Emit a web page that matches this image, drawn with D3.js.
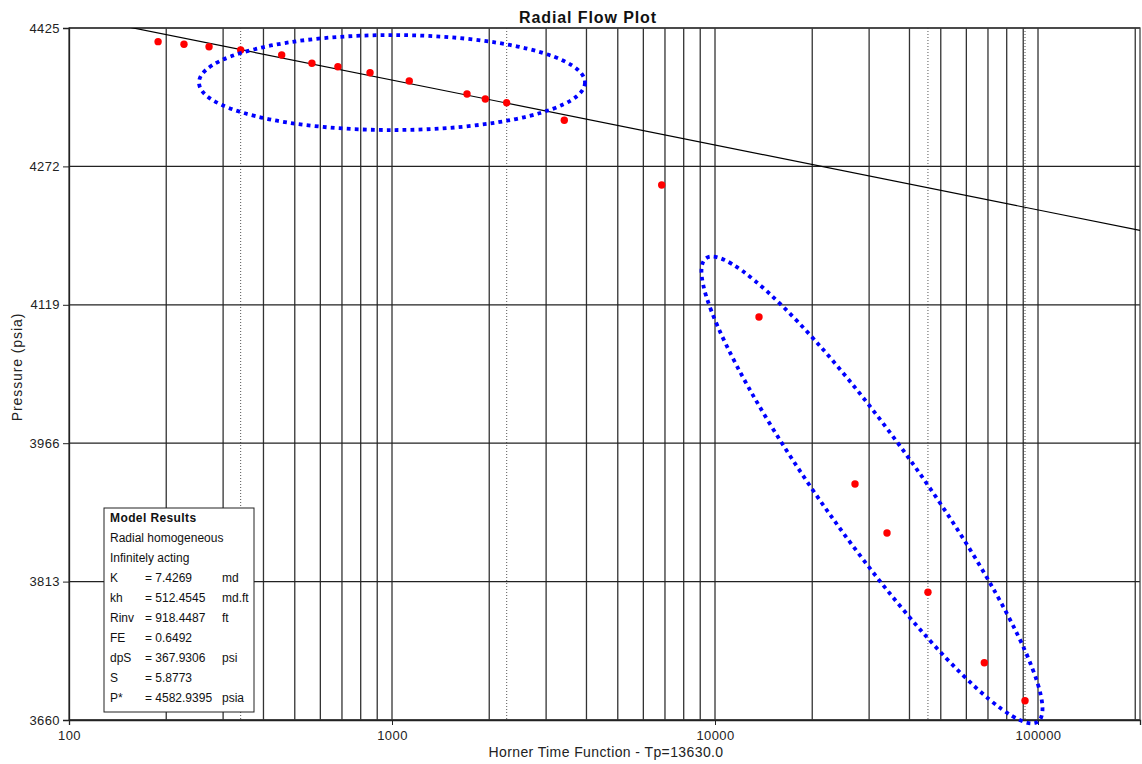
<!DOCTYPE html>
<html>
<head>
<meta charset="utf-8">
<script src="https://cdn.jsdelivr.net/npm/d3@7"></script>
<style>
  body { margin: 0; background: #fff; }
  text { font-family: "Liberation Sans", Arial, sans-serif; }
</style>
</head>
<body>
<svg id="chart" width="1142" height="764"></svg>
<script>
// ---- data ----
const hornerTime = [188.7, 227, 271.4, 340, 455.5, 565, 680, 855, 1131, 1707, 1945, 2265, 3415, 6839,
                    13683, 27130, 34080, 45630, 68200, 91150];
const pressure = [4409.9, 4407.0, 4404.3, 4400.7, 4395.2, 4386.0, 4382.2, 4375.6, 4366.4, 4352.0,
                  4346.5, 4342.4, 4323.0, 4251.4, 4105.5, 3920.9, 3866.7, 3801.2, 3723.3, 3681.3];
const fitTime = [100, 206900];
const fitPressure = [4439.3, 4201.2];
const markerTimes = [340, 2265, 45630, 91150];
const yTicks = [3660, 3813, 3966, 4119, 4272, 4425];
const xTickLabels = [100, 1000, 10000, 100000];
const ellipseTime = [1000, 30620];
const ellipsePressure = [4364.7, 3914.3];
const resultLabels = ["K", "kh", "Rinv", "FE", "dpS", "S", "P*"];
const resultValues = ["= 7.4269", "= 512.4545", "= 918.4487", "= 0.6492", "= 367.9306", "= 5.8773", "= 4582.9395"];
const resultUnits = ["md", "md.ft", "ft", "", "psi", "", "psia"];
const resultHeader = ["Model Results", "Radial homogeneous", "Infinitely acting"];

// ---- layout ----
const L = 69, R = 1140, T = 28, B = 720;
const svg = d3.select("#chart");
svg.append("rect").attr("width", 1142).attr("height", 764).attr("fill", "#fff");

const x = d3.scaleLog().domain([100, 206900]).range([L, R]);
const y = d3.scaleLinear().domain([3660, 4425]).range([B, T]);

// vertical gridlines: 2..9 x decade and decades
const gridX = [];
for (let d = 100; d <= 100000; d *= 10) {
  for (let k = 1; k <= 9; k++) {
    const v = d * k;
    if (v > 100 && v <= 206900) gridX.push(v);
  }
}
svg.append("g").selectAll("line").data(gridX).join("line")
  .attr("x1", d => x(d)).attr("x2", d => x(d))
  .attr("y1", T).attr("y2", B)
  .attr("stroke", "#333").attr("stroke-width", 1.3);

// dotted marker lines
svg.append("g").selectAll("line").data(markerTimes).join("line")
  .attr("x1", d => x(d)).attr("x2", d => x(d))
  .attr("y1", T).attr("y2", B)
  .attr("stroke", "#555").attr("stroke-width", 1)
  .attr("stroke-dasharray", "1,2");

// horizontal gridlines
svg.append("g").selectAll("line").data(yTicks).join("line")
  .attr("x1", L).attr("x2", R)
  .attr("y1", d => y(d)).attr("y2", d => y(d))
  .attr("stroke", "#222").attr("stroke-width", 1.3);

// frame
svg.append("rect").attr("x", L).attr("y", T).attr("width", R - L).attr("height", B - T)
  .attr("fill", "none").attr("stroke", "#444").attr("stroke-width", 1.3);

// axes
const yAxis = d3.axisLeft(y).tickValues(yTicks).tickSize(6).tickPadding(3).tickFormat(d3.format("d"));
const gy = svg.append("g").attr("transform", `translate(${L},0)`).call(yAxis);
const xAxis = d3.axisBottom(x).tickValues(xTickLabels).tickSize(5).tickPadding(6).tickFormat(d3.format("d"));
const gx = svg.append("g").attr("transform", `translate(0,${B})`).call(xAxis);
[gx, gy].forEach(g => {
  g.select(".domain").attr("stroke", "#222").attr("stroke-width", 1.3);
  g.selectAll(".tick line").attr("stroke", "#222");
  g.selectAll("text").attr("font-size", 13).attr("fill", "#222")
    .attr("letter-spacing", 0.4)
    .attr("font-family", "Liberation Sans, Arial, sans-serif");
});

// clip
svg.append("clipPath").attr("id", "clip").append("rect")
  .attr("x", L).attr("y", T).attr("width", R - L).attr("height", B - T);

// fitted line
svg.append("line")
  .attr("clip-path", "url(#clip)")
  .attr("x1", x(fitTime[0])).attr("y1", y(fitPressure[0]))
  .attr("x2", x(fitTime[1])).attr("y2", y(fitPressure[1]))
  .attr("stroke", "#000").attr("stroke-width", 1.2);

// points
svg.append("g").selectAll("circle").data(hornerTime).join("circle")
  .attr("cx", d => x(d)).attr("cy", (d, i) => y(pressure[i]))
  .attr("r", 3.7).attr("fill", "#ff0000");

// ellipses
const ellSize = [[193, 47.5, 0], [285, 48.5, 54.4]];
svg.append("g").selectAll("ellipse").data(ellipseTime).join("ellipse")
  .attr("cx", 0).attr("cy", 0)
  .attr("rx", (d, i) => ellSize[i][0]).attr("ry", (d, i) => ellSize[i][1])
  .attr("transform", (d, i) => `translate(${x(d)},${y(ellipsePressure[i])}) rotate(${ellSize[i][2]})`)
  .attr("fill", "none").attr("stroke", "#0000ff").attr("stroke-width", 3.8)
  .attr("stroke-dasharray", "3.8,4.2");

// legend box
const bx = 104, by = 508;
svg.append("rect").attr("x", bx).attr("y", by).attr("width", 150).attr("height", 204)
  .attr("fill", "#fff").attr("stroke", "#222").attr("stroke-width", 1);
const lg = svg.append("g").attr("font-size", 12).attr("fill", "#111");
resultHeader.forEach((t, i) => {
  lg.append("text").attr("x", bx + 6).attr("y", by + 14 + i * 20)
    .attr("font-weight", i === 0 ? "bold" : "normal")
    .attr("letter-spacing", i === 0 ? 0.4 : 0).text(t);
});
resultLabels.forEach((t, i) => {
  const yy = by + 14 + (i + 3) * 20;
  lg.append("text").attr("x", bx + 6).attr("y", yy).text(t);
  lg.append("text").attr("x", bx + 41).attr("y", yy).text(resultValues[i]);
  lg.append("text").attr("x", bx + 118).attr("y", yy).text(resultUnits[i]);
});

// titles
svg.append("text").attr("x", 588).attr("y", 23).attr("text-anchor", "middle")
  .attr("font-size", 16).attr("font-weight", "bold").attr("fill", "#111")
  .attr("letter-spacing", 0.9).text("Radial Flow Plot");
svg.append("text").attr("x", 606).attr("y", 757).attr("text-anchor", "middle")
  .attr("font-size", 14).attr("fill", "#222").attr("letter-spacing", 0.4)
  .text("Horner Time Function - Tp=13630.0");
svg.append("text").attr("transform", "translate(22,367) rotate(-90)").attr("text-anchor", "middle")
  .attr("font-size", 14).attr("fill", "#222").attr("letter-spacing", 0.9).text("Pressure (psia)");
</script>
</body>
</html>
